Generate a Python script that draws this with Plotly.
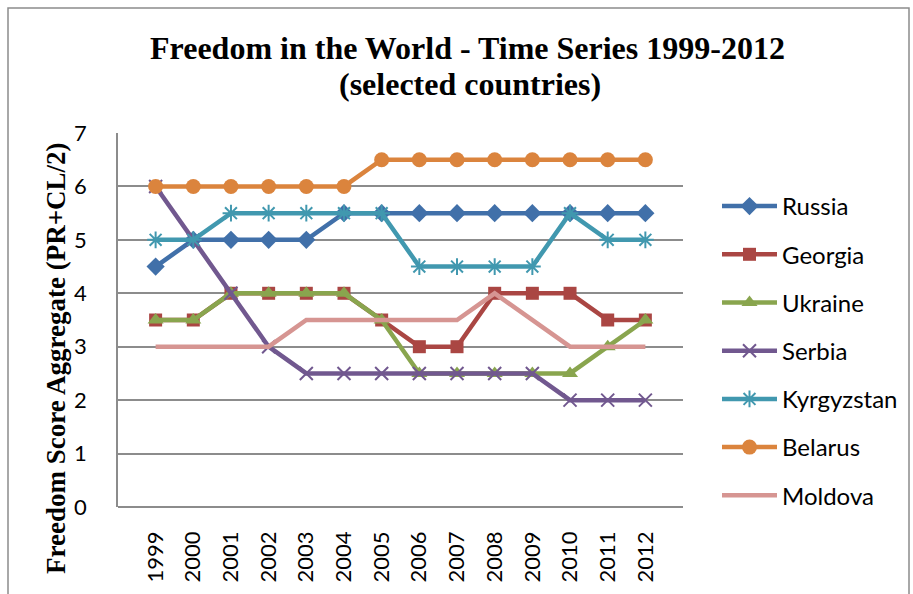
import plotly.graph_objects as go

years = ["1999", "2000", "2001", "2002", "2003", "2004", "2005", "2006", "2007", "2008", "2009", "2010", "2011", "2012"]
russia = [4.5, 5, 5, 5, 5, 5.5, 5.5, 5.5, 5.5, 5.5, 5.5, 5.5, 5.5, 5.5]
georgia = [3.5, 3.5, 4, 4, 4, 4, 3.5, 3, 3, 4, 4, 4, 3.5, 3.5]
ukraine = [3.5, 3.5, 4, 4, 4, 4, 3.5, 2.5, 2.5, 2.5, 2.5, 2.5, 3, 3.5]
serbia = [6, 5, 4, 3, 2.5, 2.5, 2.5, 2.5, 2.5, 2.5, 2.5, 2, 2, 2]
kyrgyzstan = [5, 5, 5.5, 5.5, 5.5, 5.5, 5.5, 4.5, 4.5, 4.5, 4.5, 5.5, 5, 5]
belarus = [6, 6, 6, 6, 6, 6, 6.5, 6.5, 6.5, 6.5, 6.5, 6.5, 6.5, 6.5]
moldova = [3, 3, 3, 3, 3.5, 3.5, 3.5, 3.5, 3.5, 4, 3.5, 3, 3, 3]

series = [
    ("Russia", russia, "#4170A9", "diamond", 14, 0),
    ("Georgia", georgia, "#AA4643", "square", 13, 0),
    ("Ukraine", ukraine, "#89A54E", "triangle-up", 14, 0),
    ("Serbia", serbia, "#71588F", "x-thin-open", 13, 2),
    ("Kyrgyzstan", kyrgyzstan, "#4198AF", "asterisk-open", 14, 2),
    ("Belarus", belarus, "#DB843D", "circle", 15, 0),
    ("Moldova", moldova, "#D69592", None, 0, 0),
]

fig = go.Figure()
for name, vals, color, sym, size, lw in series:
    if sym is None:
        fig.add_trace(go.Scatter(x=years, y=vals, name=name, mode="lines",
                                 line=dict(color=color, width=4.5),
                                 legendgroup=name))
    else:
        fig.add_trace(go.Scatter(x=years, y=vals, name=name, mode="lines+markers",
                                 line=dict(color=color, width=4.5),
                                 marker=dict(symbol=sym, size=size, color=color,
                                             line=dict(color=color, width=lw)),
                                 legendgroup=name))

L, R, T, B = 118, 230, 133, 87
W, H = 913, 594
pw = W - L - R
ph = H - T - B

def px(x):
    return (x - L) / pw

def py(y):
    return (H - B - y) / ph

title_font = dict(family="Liberation Serif", size=32, color="black", weight="bold")

fig.update_layout(
    width=W, height=H,
    margin=dict(l=L, r=R, t=T, b=B, autoexpand=False),
    paper_bgcolor="white", plot_bgcolor="white",
    xaxis=dict(type="category", tickangle=-90, tickfont=dict(family="Lato", size=22, color="black"),
               showgrid=False, showline=False, ticks="", zeroline=False,
               ticklabelstandoff=19, automargin=False),
    yaxis=dict(range=[0, 7], dtick=1, tickfont=dict(family="Lato", size=22, color="black"),
               showgrid=True, gridcolor="#8C8C8C", gridwidth=1.5,
               showline=True, linecolor="#8C8C8C", linewidth=1.5,
               zeroline=True, zerolinecolor="#8C8C8C", zerolinewidth=1.5,
               ticks="", ticklabelstandoff=25, automargin=False),
    legend=dict(x=px(717), y=py(184), xanchor="left", yanchor="top",
                font=dict(family="Lato", size=24, color="black"),
                tracegroupgap=14, itemwidth=55, bgcolor="rgba(0,0,0,0)"),
    showlegend=True,
    annotations=[
        dict(text="Freedom in the World - Time Series 1999-2012",
             xref="paper", yref="paper", x=px(467), y=py(48),
             xanchor="center", yanchor="middle", showarrow=False, font=title_font),
        dict(text="(selected countries)",
             xref="paper", yref="paper", x=px(470), y=py(84),
             xanchor="center", yanchor="middle", showarrow=False, font=title_font),
        dict(text="Freedom Score Aggregate (PR+CL/2)", textangle=-90,
             xref="paper", yref="paper", x=px(56), y=py(358),
             xanchor="center", yanchor="middle", showarrow=False,
             font=dict(family="Liberation Serif", size=27, color="black", weight="bold")),
    ],
    shapes=[dict(type="rect", xref="paper", yref="paper",
                 x0=px(8), x1=px(909), y0=py(600), y1=py(8),
                 line=dict(color="#8C8C8C", width=1.5))],
)
fig.write_html("out.html", config={"displayModeBar": False},
               post_script="document.body.style.margin='0px';")
